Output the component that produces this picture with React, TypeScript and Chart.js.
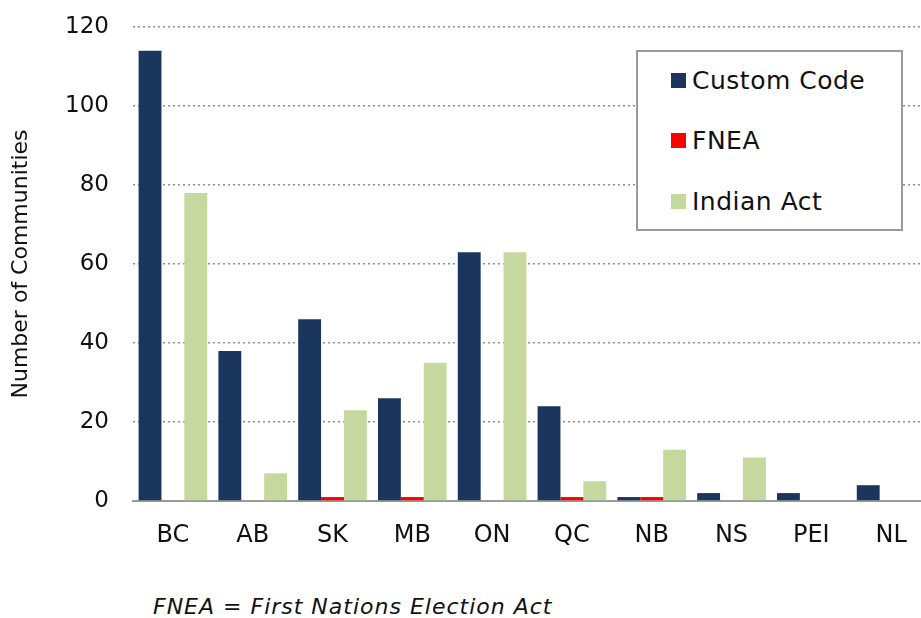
import React, { useEffect, useRef } from "react";
import { Chart, registerables } from "chart.js";

Chart.register(...registerables);

const provinces = ["BC", "AB", "SK", "MB", "ON", "QC", "NB", "NS", "PEI", "NL"];
const customCode = [114, 38, 46, 26, 63, 24, 1, 2, 2, 4];
const fnea = [0, 0, 1, 1, 0, 1, 1, 0, 0, 0];
const indianAct = [78, 7, 23, 35, 63, 5, 13, 11, 0, 0];
const yTicks = [0, 20, 40, 60, 80, 100, 120];

const seriesNames = ["Custom Code", "FNEA", "Indian Act"];
const seriesColors = ["#1B365D", "#FF0000", "#C5D89E"];

const FONT = "'DejaVu Sans', 'Noto Sans', sans-serif";

export default function App() {
  const ref = useRef<HTMLCanvasElement | null>(null);

  useEffect(() => {
    if (!ref.current) return;
    const chart = new Chart(ref.current, {
      type: "bar",
      data: {
        labels: provinces,
        datasets: [customCode, fnea, indianAct].map((d, i) => ({
          label: seriesNames[i],
          data: d,
          backgroundColor: seriesColors[i],
          borderWidth: 0,
          categoryPercentage: 0.86,
          barPercentage: 1,
        })),
      },
      options: {
        animation: false,
        responsive: false,
        maintainAspectRatio: false,
        layout: { padding: { top: 27, right: 4, left: 0, bottom: 0 } },
        plugins: {
          legend: { display: false },
          tooltip: { enabled: false },
        },
        scales: {
          x: {
            grid: { display: false, drawTicks: false },
            border: { display: true, color: "#9a9a9a", width: 2 },
            ticks: {
              color: "#111",
              font: { family: FONT, size: 24 },
              padding: 20,
            },
            afterFit: (s: any) => {
              s.height = 59;
            },
          },
          y: {
            min: 0,
            max: 120,
            afterBuildTicks: (s: any) => {
              s.ticks = yTicks.map((v) => ({ value: v }));
            },
            grid: {
              drawTicks: true,
              tickLength: 24,
              tickColor: "rgba(0,0,0,0)",
              color: (ctx: any) => (ctx.tick && ctx.tick.value === 0 ? "rgba(0,0,0,0)" : "#8f8f8f"),
              lineWidth: 1.5,
            },
            border: { display: false, dash: [2, 3] },
            ticks: {
              color: "#111",
              font: { family: FONT, size: 23 },
              padding: 0,
            },
            title: {
              display: true,
              text: "Number of Communities",
              color: "#111",
              font: { family: FONT, size: 22 },
              padding: { top: 8, bottom: 10 },
            },
            afterFit: (s: any) => {
              s.width = 133;
            },
          },
        },
      },
    });
    return () => chart.destroy();
  }, []);

  return (
    <div
      style={{
        position: "absolute",
        left: 0,
        top: 0,
        width: 921,
        height: 618,
        overflow: "hidden",
        background: "#fff",
      }}
    >
      <canvas ref={ref} width={935} height={560} style={{ position: "absolute", left: 0, top: 0 }} />
      <div
        style={{
          position: "absolute",
          left: 636,
          top: 50,
          width: 263,
          height: 177,
          border: "2px solid #9a9a9a",
          background: "#fff",
          fontFamily: FONT,
          fontSize: 25,
          letterSpacing: 0.5,
          color: "#111",
        }}
      >
        {seriesNames.map((n, i) => (
          <div
            key={n}
            style={{
              position: "absolute",
              left: 33,
              top: 13 + i * 60.5,
              height: 30,
              display: "flex",
              alignItems: "center",
              whiteSpace: "nowrap",
            }}
          >
            <span
              style={{
                display: "inline-block",
                width: 15,
                height: 15,
                background: seriesColors[i],
                marginRight: 6,
              }}
            />
            {n}
          </div>
        ))}
      </div>
      <div
        style={{
          position: "absolute",
          left: 153,
          top: 593,
          fontFamily: FONT,
          fontStyle: "italic",
          fontSize: 22,
          letterSpacing: 1,
          color: "#111",
          whiteSpace: "nowrap",
          lineHeight: "28px",
        }}
      >
        FNEA = First Nations Election Act
      </div>
    </div>
  );
}
